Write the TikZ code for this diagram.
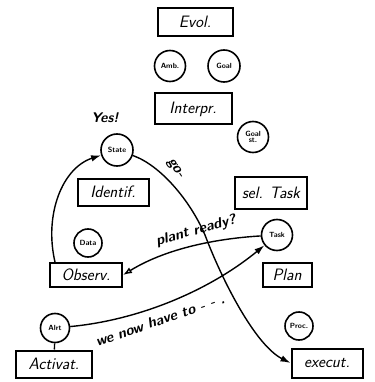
\documentclass[tikz,border=0pt]{standalone}
\usetikzlibrary{arrows.meta}
\begin{document}
\begin{tikzpicture}[x=1pt,y=-1pt,
  box/.style={draw,line width=2pt,inner sep=0pt,font=\sffamily\itshape\fontsize{16.5}{16.5}\selectfont},
  circ/.style={draw,circle,line width=1.6pt,inner sep=0pt,minimum size=29pt,font=\sffamily\bfseries\fontsize{7.5}{7.5}\selectfont,align=center},
  conn/.style={line width=1.4pt},
  lbl/.style={font=\sffamily\bfseries\itshape\fontsize{14.5}{14.5}\selectfont,inner sep=0pt},
  fill tip/.style={-{Latex[length=10pt,width=6.5pt]}},
  open tip/.style={-{Latex[open,length=9pt,width=6.5pt]}}]
\useasboundingbox (0,0) rectangle (374,382);
% boxes
\node[box,minimum width=75pt,minimum height=28pt] (evol) at (195,22) {Evol.};
\node[box,minimum width=77pt,minimum height=31pt] (interp) at (193,109) {Interpr.};
\node[box,minimum width=71pt,minimum height=27pt] (ident) at (113,192) {Identif.};
\node[box,minimum width=72pt,minimum height=32pt] (sel) at (271,193) {sel. Task};
\node[box,minimum width=72pt,minimum height=24pt] (obs) at (86,275) {Observ.};
\node[box,minimum width=49pt,minimum height=24pt] (plan) at (287,275) {Plan};
\node[box,minimum width=76pt,minimum height=27pt] (act) at (54,364) {Activat.};
\node[box,minimum width=71pt,minimum height=29pt] (exe) at (327,363) {execut.};
% circles
\node[circ,minimum size=31pt] (amb) at (170,66) {Amb.};
\node[circ,minimum size=32pt] (goal) at (224,66) {Goal};
\node[circ,minimum size=31pt] (goalst) at (253,137) {Goal\\[-1pt]st.};
\node[circ,minimum size=32pt] (state) at (117,150) {State};
\node[circ,minimum size=31pt] (task) at (277,235) {Task};
\node[circ,minimum size=28pt] (data) at (88,243) {Data};
\node[circ,minimum size=28pt] (proc) at (299,326) {Proc.};
\node[circ,minimum size=29pt] (alrt) at (55,328) {Alrt};
% free text
\node[font=\sffamily\bfseries\itshape\fontsize{14}{14}\selectfont] (yes) at (105,118) {Yes!};
% connectors
\draw[conn] (alrt) -- (act);
\draw[conn,fill tip] (obs.north west) ++(6,0) coordinate (obsstart)
  .. controls (44,215) and (62,168) .. (state);
\draw[conn,fill tip] (state) .. controls (160,165) and (190,200) .. (205,235)
  .. controls (222,280) and (255,345) .. (exe.west);
\draw[conn,open tip] (task) .. controls (225,238) and (170,246) .. (obs.east);
\draw[conn,fill tip] (alrt) .. controls (140,320) and (210,290) .. (task);
% labels
\node[lbl,rotate=-57] (go) at (175,169) {go-};
\node[lbl,rotate=15] (ready) at (196,231) {plant ready?};
\node[lbl,rotate=19] (have) at (160,320) {we now have to - - .};
\end{tikzpicture}
\end{document}
